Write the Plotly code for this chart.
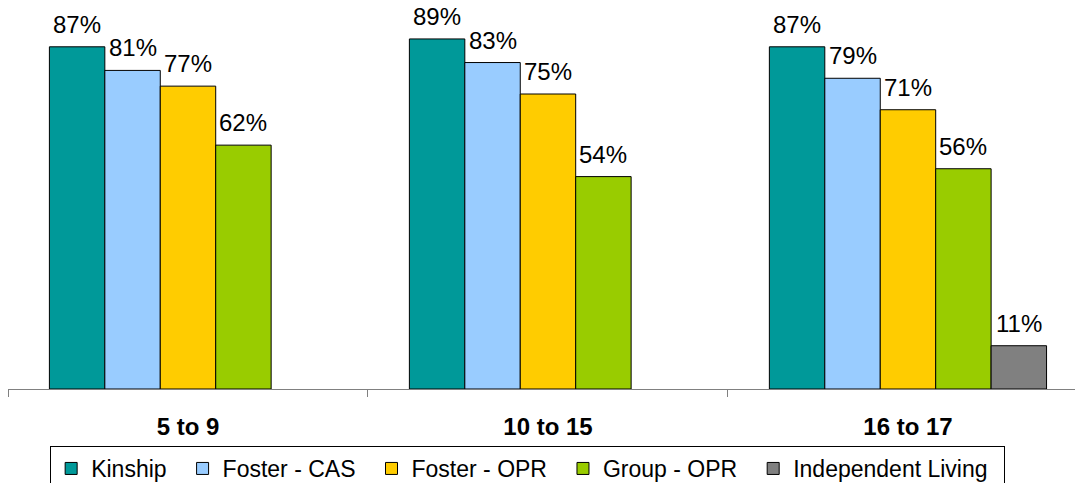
import plotly.graph_objects as go

# Age groups and placement types
age_groups = ["5 to 9", "10 to 15", "16 to 17"]
series_names = ["Kinship", "Foster - CAS", "Foster - OPR", "Group - OPR", "Independent Living"]
kinship = [87, 89, 87]
foster_cas = [81, 83, 79]
foster_opr = [77, 75, 71]
group_opr = [62, 54, 56]
independent_living = [None, None, 11]

series_values = [kinship, foster_cas, foster_opr, group_opr, independent_living]
colors = ["#009999", "#99CCFF", "#FFCC00", "#99CC00", "#808080"]

FONT = "Arial, Liberation Sans, sans-serif"
BARGAP = 0.23
PAD = "\u00a0\u2009"  # extra room between legend entries

fig = go.Figure()
for name, vals, col in zip(series_names, series_values, colors):
    fig.add_trace(go.Bar(
        x=age_groups, y=vals, name=name + PAD,
        marker=dict(color=col, line=dict(color="black", width=1)),
    ))

# Percentage labels above each bar
n = len(series_names)
bar_w = (1 - BARGAP) / n
for i, vals in enumerate(series_values):
    for g, v in enumerate(vals):
        if v is None:
            continue
        fig.add_annotation(
            x=g + (i - (n - 1) / 2) * bar_w, y=v, xref="x", yref="y",
            text=f"{v}%", showarrow=False, yanchor="bottom", yshift=7,
            font=dict(family=FONT, size=24, color="black"),
        )

fig.update_layout(
    width=1075, height=483,
    margin=dict(l=8, r=0, t=0, b=94, autoexpand=False),
    paper_bgcolor="white", plot_bgcolor="white",
    barmode="group", bargap=BARGAP, bargroupgap=0,
    font=dict(family=FONT, size=23, color="black"),
    showlegend=True,
    legend=dict(
        orientation="h", x=0.0395, xanchor="left", y=-0.1465, yanchor="top",
        bordercolor="black", borderwidth=1, bgcolor="white",
        font=dict(family=FONT, size=23, color="black"),
        traceorder="normal",
    ),
    xaxis=dict(
        type="category", range=[-0.5, 2.464],
        showline=True, linecolor="#808080", linewidth=1,
        ticks="outside", ticklen=7, tickcolor="#808080", tickson="boundaries",
        tickfont=dict(family=FONT, size=24, color="black", weight="bold"),
        ticklabelstandoff=16, showgrid=False, zeroline=False,
    ),
    yaxis=dict(range=[0, 98.9], visible=False, showgrid=False, zeroline=False),
)

fig.write_html("out.html")
